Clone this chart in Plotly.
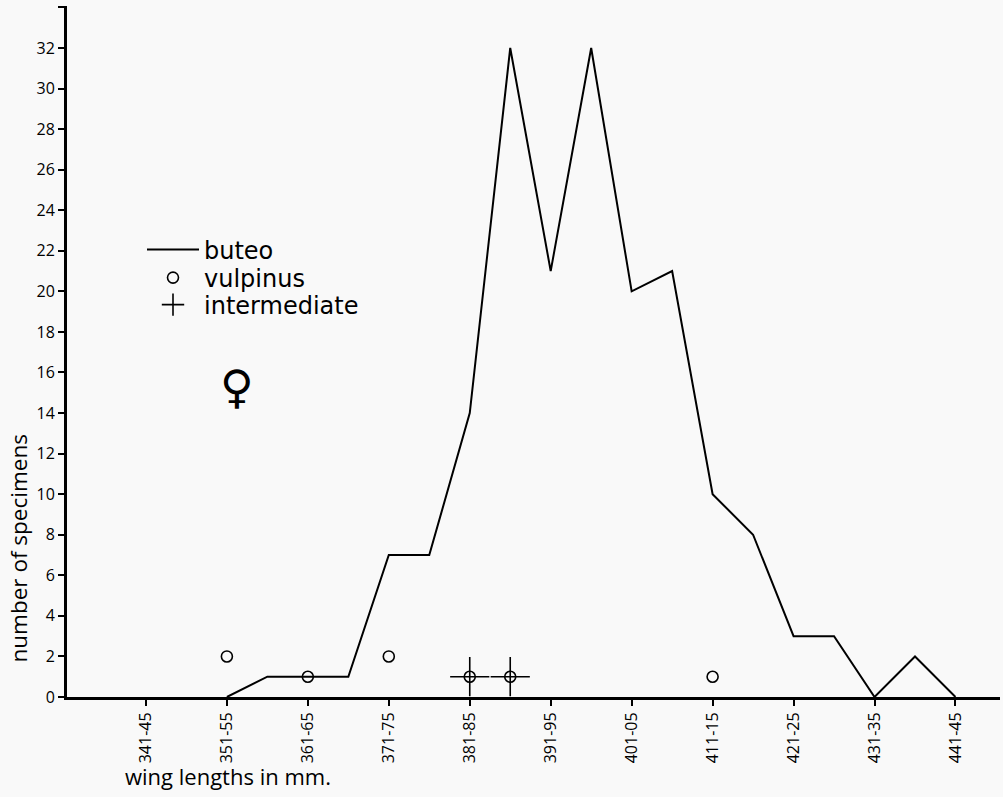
import plotly.graph_objects as go

# 5 mm wing-length bins (only every other one is labelled on the axis)
bins = ["341-45", "346-50", "351-55", "356-60", "361-65", "366-70", "371-75", "376-80",
        "381-85", "386-90", "391-95", "396-400", "401-05", "406-10", "411-15", "416-20",
        "421-25", "426-30", "431-35", "436-40", "441-45"]
tick_labels = ["341-45", "351-55", "361-65", "371-75", "381-85", "391-95",
               "401-05", "411-15", "421-25", "431-35", "441-45"]

buteo_bins = ["351-55", "356-60", "361-65", "366-70", "371-75", "376-80", "381-85", "386-90",
              "391-95", "396-400", "401-05", "406-10", "411-15", "416-20", "421-25", "426-30",
              "431-35", "436-40", "441-45"]
buteo_counts = [0, 1, 1, 1, 7, 7, 14, 32, 21, 32, 20, 21, 10, 8, 3, 3, 0, 2, 0]

vulpinus_bins = ["351-55", "361-65", "371-75", "411-15"]
vulpinus_counts = [2, 1, 2, 1]

intermediate_bins = ["381-85", "386-90"]
intermediate_counts = [1, 1]

FONT = "Open Sans"
LEGFONT = "DejaVu Sans"
fig = go.Figure()
fig.add_trace(go.Scatter(x=buteo_bins, y=buteo_counts, mode="lines", name="buteo",
                         legend="legend",
                         line=dict(color="black", width=2)))
fig.add_trace(go.Scatter(x=vulpinus_bins, y=vulpinus_counts, mode="markers", name="vulpinus",
                         legend="legend2",
                         marker=dict(symbol="circle-open", size=11, color="black",
                                     line=dict(width=1.6, color="black"))))
fig.add_trace(go.Scatter(x=intermediate_bins, y=intermediate_counts, mode="markers",
                         name="intermediate", legend="legend3",
                         marker=dict(symbol="cross-thin-open", size=28, color="black",
                                     line=dict(width=1.6, color="black"))))
fig.add_trace(go.Scatter(x=intermediate_bins, y=intermediate_counts, mode="markers",
                         showlegend=False,
                         marker=dict(symbol="circle-open", size=11, color="black",
                                     line=dict(width=1.6, color="black"))))


def leg(ypix):
    return dict(x=(142 - 67) / 933, y=(697 - ypix) / 691, xanchor="left", yanchor="middle",
                bgcolor="rgba(0,0,0,0)", font=dict(size=24, family=LEGFONT),
                itemwidth=52)


fig.update_layout(
    width=1003, height=797,
    margin=dict(l=67, r=3, t=6, b=100),
    paper_bgcolor="#f9f9f9", plot_bgcolor="#f9f9f9",
    font=dict(family=FONT, color="black"),
    showlegend=True,
    legend=leg(250), legend2=leg(278), legend3=leg(305),
    xaxis=dict(type="category", categoryorder="array", categoryarray=bins,
               range=[-1.95, 21.1], tickmode="array", tickvals=tick_labels,
               ticktext=tick_labels, tickangle=-90, ticks="outside", ticklen=6,
               tickwidth=2, tickcolor="black", showgrid=False, zeroline=False,
               showline=True, linewidth=3, linecolor="black",
               tickfont=dict(size=16, family=FONT)),
    yaxis=dict(range=[0, 34.07], tickmode="linear", tick0=0, dtick=2,
               ticks="outside", ticklen=6, tickwidth=2, tickcolor="black",
               showgrid=False, zeroline=False, showline=True, linewidth=3,
               linecolor="black", tickfont=dict(size=16, family=FONT)),
)

fig.add_annotation(text="number of specimens", xref="paper", yref="paper",
                   x=-0.052, y=(697 - 548) / 691, textangle=-90, showarrow=False,
                   font=dict(size=22.5, family=FONT), xanchor="center", yanchor="middle")
fig.add_annotation(text="wing lengths in mm.", xref="paper", yref="paper",
                   x=(123 - 67) / 933, y=-(776 - 697) / 691, showarrow=False,
                   font=dict(size=22, family=FONT), xanchor="left", yanchor="middle")
fig.add_annotation(text="♀", xref="paper", yref="paper",
                   x=(237 - 67) / 933, y=(697 - 387) / 691, showarrow=False,
                   font=dict(size=46, family="DejaVu Sans"), xanchor="center", yanchor="middle")

fig.write_html("out.html", post_script="document.body.style.margin='0';",
               config={"displayModeBar": False})
